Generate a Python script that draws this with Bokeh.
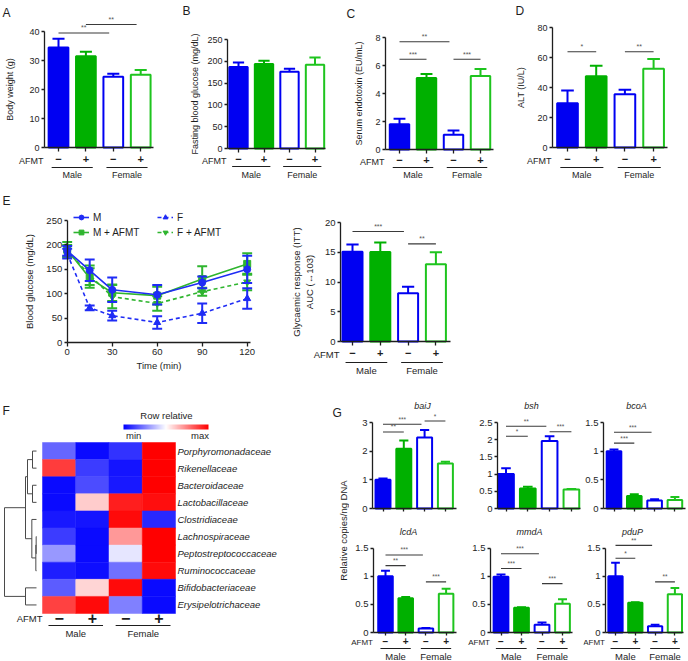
import math
from bokeh.plotting import figure
from bokeh.models import (LinearAxis, FixedTicker, Range1d, Legend, LegendItem,
                          ColorBar, LinearColorMapper, Spacer, ColumnDataSource)
from bokeh.layouts import row, column
from bokeh.core.properties import value
from bokeh.transform import transform
from bokeh.embed import file_html
from bokeh.resources import INLINE

# ---------------------------------------------------------------- data
treat_signs = ["\u2212", "+", "\u2212", "+"]
sex_groups = ["Male", "Female"]

body_weight = [34.5, 31.5, 24.4, 25.1]
body_weight_err = [3.0, 1.5, 1.0, 1.6]
body_weight_ticks = [0, 10, 20, 30, 40]
body_weight_sig = [(1, 3, 39.5, "**"), (2, 4, 42.4, "**")]

fasting_glucose = [187, 194, 176, 192]
fasting_glucose_err = [10, 7, 7, 17]
fasting_glucose_ticks = [0, 50, 100, 150, 200, 250]
fasting_glucose_sig = []

endotoxin = [1.8, 5.1, 1.05, 5.25]
endotoxin_err = [0.4, 0.3, 0.3, 0.5]
endotoxin_ticks = [0, 2, 4, 6, 8]
endotoxin_sig = [(1, 3, 7.7, "**"), (1, 2, 6.45, "***"), (3, 4, 6.45, "***")]

alt_level = [29.5, 47.5, 35.5, 52.5]
alt_err = [8.5, 7.0, 3.0, 6.5]
alt_ticks = [0, 20, 40, 60, 80]
alt_sig = [(1, 2, 63.8, "*"), (3, 4, 63.8, "**")]

itt_time = [0, 15, 30, 60, 90, 120]
itt_time_ticks = [0, 30, 60, 90, 120]
itt_glucose_ticks = [0, 50, 100, 150, 200, 250]
itt_m = [188, 148, 108, 98, 123, 150]
itt_m_err = [10, 22, 25, 20, 12, 28]
itt_m_afmt = [190, 132, 102, 96, 130, 161]
itt_m_afmt_err = [16, 20, 17, 18, 26, 22]
itt_f = [182, 71, 55, 41, 60, 90]
itt_f_err = [10, 5, 10, 13, 20, 21]
itt_f_afmt = [188, 138, 94, 80, 104, 124]
itt_f_afmt_err = [12, 20, 24, 15, 8, 17]

auc = [15.1, 15.05, 8.1, 13.0]
auc_err = [1.2, 1.6, 1.1, 2.0]
auc_ticks = [0, 5, 10, 15, 20]
auc_sig = [(1, 3, 18.5, "***"), (3, 4, 16.4, "**")]

families = ["Porphyromonadaceae", "Rikenellaceae", "Bacteroidaceae", "Lactobacillaceae",
            "Clostridiaceae", "Lachnospiraceae", "Peptostreptococcaceae", "Ruminococcaceae",
            "Bifidobacteriaceae", "Erysipelotrichaceae"]
heat_male_ctrl = [0.20, 0.88, 0.02, 0.02, 0.05, 0.12, 0.30, 0.06, 0.18, 0.87]
heat_male_afmt = [0.02, 0.12, 0.15, 0.60, 0.04, 0.02, 0.02, 0.03, 0.58, 0.98]
heat_female_ctrl = [0.10, 0.04, 0.05, 0.94, 0.98, 0.70, 0.45, 0.22, 0.98, 0.25]
heat_female_afmt = [1.00, 1.00, 1.00, 0.97, 0.08, 1.00, 1.00, 0.98, 0.02, 0.02]
# dendrogram links: (child a, child b, merge height); leaves 0..9, new nodes 10..
dendro_links = [(0, 1, 0.12), (2, 3, 0.12), (5, 6, 0.01), (12, 7, 0.02), (4, 13, 0.14),
                (10, 11, 0.27), (15, 14, 0.33), (8, 9, 0.33), (16, 17, 0.96)]

baij = [1.0, 2.08, 2.48, 1.57]
baij_err = [0.05, 0.29, 0.26, 0.06]
baij_ticks = [0, 1, 2, 3]
baij_sig = [(1, 3, 2.94, "***"), (1, 2, 2.67, "**"), (3, 4, 3.05, "*")]
bsh = [1.0, 0.58, 1.96, 0.55]
bsh_err = [0.17, 0.05, 0.14, 0.02]
bsh_ticks = [0, 0.5, 1.0, 1.5, 2.0, 2.5]
bsh_sig = [(1, 3, 2.39, "**"), (1, 2, 2.1, "*"), (3, 4, 2.23, "***")]
bcoa = [1.0, 0.22, 0.14, 0.15]
bcoa_err = [0.03, 0.03, 0.02, 0.05]
bcoa_ticks = [0, 0.5, 1.0, 1.5]
bcoa_sig = [(1, 3, 1.33, "***"), (1, 2, 1.14, "***")]
lcda = [1.0, 0.61, 0.07, 0.69]
lcda_err = [0.1, 0.02, 0.01, 0.09]
lcda_ticks = [0, 0.5, 1.0, 1.5]
lcda_sig = [(1, 3, 1.38, "***"), (1, 2, 1.19, "**"), (3, 4, 0.9, "***")]
mmda = [0.99, 0.44, 0.14, 0.51]
mmda_err = [0.04, 0.01, 0.04, 0.08]
mmda_ticks = [0, 0.5, 1.0, 1.5]
mmda_sig = [(1, 3, 1.40, "***"), (1, 2, 1.14, "***"), (3, 4, 0.87, "***")]
pdup = [1.0, 0.53, 0.11, 0.68]
pdup_err = [0.24, 0.01, 0.03, 0.11]
pdup_ticks = [0, 0.5, 1.0, 1.5]
pdup_sig = [(1, 3, 1.55, "**"), (1, 2, 1.32, "*"), (3, 4, 0.9, "**")]

# ---------------------------------------------------------------- style
S = 1.0
FONT = "Liberation Sans"
INK = "#1e1e1e"
BLUE = "#0000f2"
GREEN = "#00b000"
GREEN_O = "#1ec41e"
LBLUE = "#1f2cf5"
LGREEN = "#2fb52f"
BAR_FILL = [BLUE, GREEN, "white", "white"]
BAR_LINE = [BLUE, GREEN, BLUE, GREEN_O]


def sz(a, b):
    return int(round(S * b)) - int(round(S * a))


class Frame:
    def __init__(self, W, H, x_px, x_val, kx, y_px, y_val, ky):
        self.W, self.H, self.kx, self.ky = W, H, kx, ky
        self.x0 = x_val - x_px / kx
        self.x1 = x_val + (W - x_px) / kx
        self.y1 = y_val + y_px / ky
        self.y0 = y_val - (H - y_px) / ky

    def X(self, px):
        return self.x0 + px / self.kx

    def Y(self, py):
        return self.y1 - py / self.ky


def make_fig(wa, ha, fr):
    p = figure(width=wa, height=ha, x_range=Range1d(fr.x0, fr.x1), y_range=Range1d(fr.y0, fr.y1),
               output_backend="svg", toolbar_location=None, x_axis_type=None, y_axis_type=None,
               min_border=0, outline_line_color=None, background_fill_color="white",
               border_fill_color="white")
    return p


def txt(p, x, y, t, size="9px", align="center", base="middle", style="normal", angle=0.0,
        color=INK):
    p.text(x=x, y=y, text=t, text_font=value(FONT), text_font_size=value(size),
           text_align=align, text_baseline=base, text_font_style=style, angle=angle,
           text_color=color)


def style_axis(ax, fs):
    ax.axis_line_color = INK
    ax.axis_line_width = 1.3
    ax.major_tick_line_color = INK
    ax.major_tick_line_width = 1.3
    ax.major_tick_in = 0
    ax.major_tick_out = 3
    ax.minor_tick_line_color = None
    ax.major_label_text_font = FONT
    ax.major_label_text_font_size = fs
    ax.major_label_text_color = INK
    ax.major_label_standoff = 2
    ax.axis_label_text_font = FONT
    ax.axis_label_text_font_style = "normal"
    ax.axis_label_text_color = INK


def sign_overrides(show):
    d = {}
    for i, s in enumerate(treat_signs):
        d[i + 1] = s if show else ""
        d[str(i + 1)] = s if show else ""
    return d


def bar_panel(wa, ha, W, H, geo, yticks, means, errs, sig, ylabel=None, lab_standoff=8,
              letter=None, signs=True, title=None, fs="9px", lab_fs="9px", below=(13, 20, 27),
              sign_fs="11px", tick_out=4, star_fs="7px", afmt_fs=None, afmt_dx=-1):
    ax_x, c1, sp, ax_right, y0, ytop, ymax = geo
    fr = Frame(W, H, c1, 1.0, sp, y0, 0.0, (y0 - ytop) / ymax)
    p = make_fig(wa, ha, fr)
    xs = [1, 2, 3, 4]
    yloc = 1 - (c1 - ax_x) / sp
    xend = 1 + (ax_right - c1) / sp
    p.vbar(x=xs, top=means, width=0.72, fill_color=BAR_FILL, line_color=BAR_LINE, line_width=2)
    tops = [m + e for m, e in zip(means, errs)]
    p.segment(x0=xs, y0=means, x1=xs, y1=tops, line_color=BAR_LINE, line_width=2)
    p.segment(x0=[x - 0.22 for x in xs], y0=tops, x1=[x + 0.22 for x in xs], y1=tops,
              line_color=BAR_LINE, line_width=2)
    # significance brackets
    bx0, bx1, by, bt = [], [], [], []
    for (i, j, yv, st) in sig:
        xe = j - 0.15 if j - i > 1 else j
        bx0.append(i); bx1.append(xe); by.append(yv); bt.append(st)
    if sig:
        p.segment(x0=bx0, y0=by, x1=bx1, y1=by, line_color="#3a3a3a", line_width=1.1)
        txt(p, [(a + b) / 2 for a, b in zip(bx0, bx1)], [y + 1.5 / fr.ky for y in by], bt,
            size=star_fs, base="bottom", color="#555555")
    ya = LinearAxis(fixed_location=yloc, bounds=(0, ymax), ticker=FixedTicker(ticks=yticks))
    style_axis(ya, fs)
    if ylabel:
        ya.axis_label = ylabel
        ya.axis_label_text_font_size = lab_fs
        ya.axis_label_standoff = lab_standoff
    p.add_layout(ya, "left")
    xa = LinearAxis(fixed_location=0, bounds=(yloc, xend), ticker=FixedTicker(ticks=xs),
                    major_label_overrides=sign_overrides(signs))
    style_axis(xa, sign_fs)
    xa.major_tick_out = tick_out
    xa.major_label_text_font_style = "bold"
    xa.major_label_standoff = max(0, below[0] - tick_out - 6)
    p.add_layout(xa, "below")
    if signs:
        txt(p, [fr.X(ax_x + afmt_dx)], [fr.Y(y0 + below[0])], ["AFMT"],
            size=afmt_fs or lab_fs, align="right")
        ly = fr.Y(y0 + below[1])
        p.segment(x0=[0.75, 2.75], y0=[ly, ly], x1=[2.25, 4.25], y1=[ly, ly],
                  line_color=INK, line_width=1.2)
        txt(p, [1.5, 3.5], [fr.Y(y0 + below[2])] * 2, sex_groups, size=lab_fs)
    if letter:
        lt, lx, ly2 = letter
        txt(p, [fr.X(lx)], [fr.Y(ly2)], [lt], size="12px", align="left", base="top")
    if title:
        tt, tx, ty = title
        txt(p, [fr.X(tx)], [fr.Y(ty)], [tt], size="9px", style="italic")
    return p


# ---------------------------------------------------------------- row 1
r1h = sz(0, 180)
pA = bar_panel(sz(0, 170), r1h, 170, 180, (44, 58, 27.4, 153, 147, 31, 40), body_weight_ticks,
               body_weight, body_weight_err, body_weight_sig, ylabel="Body weight (g)",
               lab_standoff=11, letter=("A", 2, 5), below=(13, 20, 27))
pB = bar_panel(sz(170, 340), r1h, 170, 180, (57, 68, 25.5, 155, 148, 39, 250),
               fasting_glucose_ticks, fasting_glucose, fasting_glucose_err, fasting_glucose_sig,
               ylabel="Fasting blood glucose (mg/dL)", lab_standoff=4, letter=("B", 12, 3),
               below=(12, 18, 26))
pC = bar_panel(sz(340, 510), r1h, 170, 180, (45, 59, 27, 153, 149, 37, 8), endotoxin_ticks,
               endotoxin, endotoxin_err, endotoxin_sig, ylabel="Serum endotoxin (EU/mL)",
               lab_standoff=8, letter=("C", 6, 6), below=(12, 18, 25))
pD = bar_panel(sz(510, 688), r1h, 178, 180, (42, 57, 28.7, 157, 147, 27, 80), alt_ticks,
               alt_level, alt_err, alt_sig, ylabel="ALT (IU/L)", lab_standoff=8,
               letter=("D", 5, 3), below=(13, 20, 27))

# ---------------------------------------------------------------- row 2: ITT
r2h = sz(180, 395)
W_E, H_E = 290, 215
frE = Frame(W_E, H_E, 66.7, 0.0, 1.5, 162, 0.0, 122.0 / 250.0)
pE = make_fig(sz(0, 290), r2h, frE)
series = [
    (itt_f_afmt, itt_f_afmt_err, LGREEN, "dashed", "inverted_triangle", "F + AFMT"),
    (itt_m_afmt, itt_m_afmt_err, LGREEN, "solid", "square", "M + AFMT"),
    (itt_f, itt_f_err, LBLUE, "dashed", "triangle", "F"),
    (itt_m, itt_m_err, LBLUE, "solid", "circle", "M"),
]
rend = {}
for ys, es, col, dash, mk, name in series:
    lo = [y - e for y, e in zip(ys, es)]
    hi = [y + e for y, e in zip(ys, es)]
    pE.segment(x0=itt_time, y0=lo, x1=itt_time, y1=hi, line_color=col, line_width=2)
    pE.segment(x0=[t - 3.3 for t in itt_time], y0=hi, x1=[t + 3.3 for t in itt_time], y1=hi,
               line_color=col, line_width=2)
    pE.segment(x0=[t - 3.3 for t in itt_time], y0=lo, x1=[t + 3.3 for t in itt_time], y1=lo,
               line_color=col, line_width=2)
    ln = pE.line(x=itt_time, y=ys, line_color=col, line_width=1.6,
                 line_dash="4 3" if dash == "dashed" else "solid")
    sc = pE.scatter(x=itt_time, y=ys, marker=mk, size=7, fill_color=col, line_color=col)
    rend[name] = (ln, sc)
yaE = LinearAxis(fixed_location=0, bounds=(0, 250), ticker=FixedTicker(ticks=itt_glucose_ticks))
style_axis(yaE, "9.5px")
yaE.axis_label = "Blood glucose (mg/dL)"
yaE.axis_label_text_font_size = "9.5px"
yaE.axis_label_standoff = 9
pE.add_layout(yaE, "left")
xaE = LinearAxis(fixed_location=0, bounds=(0, 122), ticker=FixedTicker(ticks=itt_time_ticks))
style_axis(xaE, "9.5px")
xaE.major_tick_out = 4
xaE.axis_label = "Time (min)"
xaE.axis_label_text_font_size = "9.5px"
xaE.axis_label_standoff = 2
pE.add_layout(xaE, "below")
leg_kw = dict(glyph_width=16, glyph_height=12, label_height=12, spacing=3, padding=0, margin=0,
              border_line_color=None, background_fill_alpha=0, label_text_font=FONT,
              label_text_font_size="10px", label_standoff=4, label_text_color=INK)
leg1 = Legend(items=[LegendItem(label="M", renderers=list(rend["M"])),
                     LegendItem(label="M + AFMT", renderers=list(rend["M + AFMT"]))],
              location=(73, 157), **leg_kw)
leg2 = Legend(items=[LegendItem(label="F", renderers=list(rend["F"])),
                     LegendItem(label="F + AFMT", renderers=list(rend["F + AFMT"]))],
              location=(157, 157), **leg_kw)
pE.add_layout(leg1, "center")
pE.add_layout(leg2, "center")
txt(pE, [frE.X(2)], [frE.Y(13)], ["E"], size="12px", align="left", base="top")

pE2 = bar_panel(sz(290, 460), r2h, 170, 215, (50, 62, 27.8, 160, 161, 42, 20), auc_ticks, auc,
                auc_err, auc_sig, ylabel="Glycaemic response (ITT)\nAUC (\u2194103)",
                lab_standoff=7, fs="9.5px", lab_fs="9.5px", below=(13, 21, 29))

# ---------------------------------------------------------------- row 3: heatmap
r3h = sz(395, 661)
W_F, H_F = 349, 266
frF = Frame(W_F, H_F, 42, 0.0, 33.25, 47, 10.0, 17.1)
pF = make_fig(sz(0, 349), r3h, frF)
pal = []
for i in range(256):
    t = i / 255.0
    if t < 0.5:
        u = t / 0.5
        c = (int(255 * u), int(255 * u), 255)
    else:
        u = (t - 0.5) / 0.5
        c = (255, int(255 * (1 - u)), int(255 * (1 - u)))
    pal.append("#%02x%02x%02x" % c)
mapper = LinearColorMapper(palette=pal, low=0, high=1)
hx, hy, hv = [], [], []
for ci, colv in enumerate([heat_male_ctrl, heat_male_afmt, heat_female_ctrl, heat_female_afmt]):
    for r in range(len(families)):
        hx.append(ci + 0.5)
        hy.append(len(families) - 0.5 - r)
        hv.append(colv[r])
hsrc = ColumnDataSource(dict(x=hx, y=hy, v=hv))
pF.rect(x="x", y="y", width=1, height=1, source=hsrc, fill_color=transform("v", mapper),
        line_color=transform("v", mapper), line_width=0.5)
txt(pF, [frF.X(177)] * len(families), [len(families) - 0.5 - r for r in range(len(families))],
    families, size="9.5px", align="left", style="italic")
# dendrogram
leaf_x = frF.X(36)
pos = {r: (leaf_x, len(families) - 0.5 - r) for r in range(len(families))}
scale_h = (leaf_x - frF.X(4)) / 0.96
dx0, dy0, dx1, dy1 = [], [], [], []
for k, (a, b, h) in enumerate(dendro_links):
    nx = leaf_x - h * scale_h
    (ax_, ay_), (bx_, by_) = pos[a], pos[b]
    dx0 += [ax_, bx_, nx]; dy0 += [ay_, by_, ay_]
    dx1 += [nx, nx, nx]; dy1 += [ay_, by_, by_]
    pos[len(families) + k] = (nx, (ay_ + by_) / 2)
pF.segment(x0=dx0, y0=dy0, x1=dx1, y1=dy1, line_color="#4a4a4a", line_width=1)
# column labels
txt(pF, [frF.X(42)], [frF.Y(223)], ["AFMT"], size="9.5px", align="right")
txt(pF, [0.5, 1.5, 2.5, 3.5], [frF.Y(222)] * 4, treat_signs, size="16px", style="bold")
gy = frF.Y(230)
pF.segment(x0=[0.18, 2.2], y0=[gy, gy], x1=[1.82, 3.85], y1=[gy, gy], line_color=INK,
           line_width=1.2)
txt(pF, [1.0, 3.03], [frF.Y(238)] * 2, sex_groups, size="9.5px")
cb = ColorBar(color_mapper=mapper, orientation="horizontal", location=(123, 218), width=85,
              height=5, padding=0, margin=0, ticker=FixedTicker(ticks=[0.12, 0.9]),
              major_label_overrides={0.12: "min", "0.12": "min", 0.9: "max", "0.90": "max",
                                     "0.9": "max"},
              major_tick_line_color=None, bar_line_color=None, label_standoff=0,
              major_label_text_font_size="9.5px", major_label_text_font=FONT,
              major_label_text_color=INK, background_fill_alpha=0, border_line_color=None)
pF.add_layout(cb, "center")
txt(pF, [frF.X(166)], [frF.Y(20)], ["Row relative"], size="9.5px")
txt(pF, [frF.X(2)], [frF.Y(8)], ["F"], size="12px", align="left", base="top")
txt(pF, [frF.X(332)], [frF.Y(10)], ["G"], size="12px", align="left", base="top")
txt(pF, [frF.X(343)], [frF.Y(135)], ["Relative copies/ng DNA"], size="9.5px", angle=math.pi / 2)

# ---------------------------------------------------------------- G panels
g1h, g2h = sz(395, 522), sz(522, 661)
gw = [sz(349, 462), sz(462, 583), sz(583, 688)]
gW = [113, 121, 105]
top_kw = dict(signs=False, fs="9.5px", tick_out=3, star_fs="6.5px")
bot_kw = dict(signs=True, fs="9.5px", lab_fs="9.5px", tick_out=3, sign_fs="10px",
              below=(10, 16, 24), star_fs="6.5px", afmt_fs="8px", afmt_dx=-0.5)
g1 = bar_panel(gw[0], g1h, gW[0], 127, (23, 33.5, 20.8, 107, 113, 27, 3), baij_ticks, baij,
               baij_err, baij_sig, title=("baiJ", 73, 10), **top_kw)
g2 = bar_panel(gw[1], g1h, gW[1], 127, (35, 43.5, 21.8, 118, 113, 27, 2.5), bsh_ticks, bsh,
               bsh_err, bsh_sig, title=("bsh", 69, 10), **top_kw)
g3 = bar_panel(gw[2], g1h, gW[2], 127, (20, 30.5, 20.3, 102, 113, 27, 1.5), bcoa_ticks, bcoa,
               bcoa_err, bcoa_sig, title=("bcoA", 53, 10), **top_kw)
g4 = bar_panel(gw[0], g2h, gW[0], 139, (24, 36, 20.2, 107, 110, 25.7, 1.5), lcda_ticks, lcda,
               lcda_err, lcda_sig, title=("lcdA", 59, 9), **bot_kw)
g5 = bar_panel(gw[1], g2h, gW[1], 139, (28, 38.5, 20.5, 110, 110, 25.7, 1.5), mmda_ticks, mmda,
               mmda_err, mmda_sig, title=("mmdA", 67, 9), **bot_kw)
g6 = bar_panel(gw[2], g2h, gW[2], 139, (22, 32, 19.8, 100, 110, 25.7, 1.5), pdup_ticks, pdup,
               pdup_err, pdup_sig, title=("pduP", 49, 9), **bot_kw)

layout = column(
    row(pA, pB, pC, pD),
    row(pE, pE2, Spacer(width=sz(460, 688), height=r2h)),
    row(pF, column(row(g1, g2, g3), row(g4, g5, g6))),
)
open("out.html", "w").write(file_html(layout, INLINE))
